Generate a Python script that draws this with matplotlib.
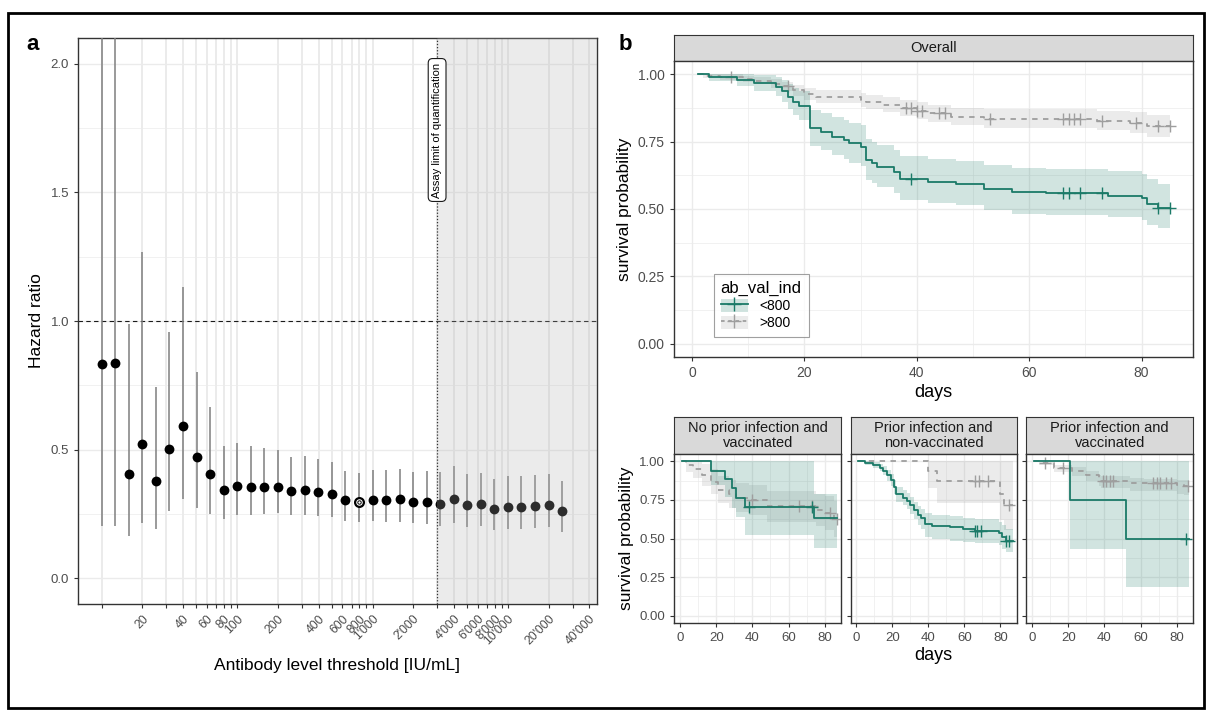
import numpy as np
import matplotlib
matplotlib.use("Agg")
import matplotlib.pyplot as plt
from matplotlib.patches import Rectangle, Patch
from matplotlib.lines import Line2D

plt.rcParams['font.family'] = ['Liberation Sans', 'DejaVu Sans']

# ---- panel a: hazard ratio by antibody threshold ----
thresholds = 10 ** (1 + 0.1 * np.arange(35))
hr = [0.831, 0.837, 0.406, 0.521, 0.379, 0.501, 0.591, 0.470, 0.407, 0.345,
      0.358, 0.355, 0.355, 0.355, 0.340, 0.342, 0.336, 0.329, 0.304, 0.298,
      0.306, 0.304, 0.307, 0.297, 0.296, 0.289, 0.307, 0.285, 0.288, 0.268,
      0.276, 0.276, 0.279, 0.284, 0.262]
hr_lo = [0.204, 0.204, 0.165, 0.213, 0.192, 0.262, 0.309, 0.272, 0.249, 0.231,
         0.244, 0.246, 0.249, 0.254, 0.244, 0.246, 0.241, 0.239, 0.222, 0.217,
         0.223, 0.219, 0.219, 0.213, 0.211, 0.204, 0.214, 0.200, 0.202, 0.187,
         0.193, 0.193, 0.196, 0.198, 0.180]
hr_hi = [3.5, 3.2, 0.990, 1.270, 0.742, 0.958, 1.131, 0.802, 0.665, 0.515,
         0.525, 0.515, 0.505, 0.498, 0.472, 0.475, 0.463, 0.451, 0.418, 0.410,
         0.420, 0.420, 0.424, 0.414, 0.416, 0.412, 0.436, 0.407, 0.411, 0.386,
         0.397, 0.397, 0.401, 0.407, 0.380]
cutoff_idx = 19
assay_limit = 3000
tick_vals = [10, 20, 30, 40, 50, 60, 70, 80, 90, 100, 200, 300, 400, 500, 600, 700,
             800, 900, 1000, 2000, 3000, 4000, 5000, 6000, 7000, 8000, 9000, 10000,
             20000, 30000, 40000]
tick_labs = ['', '20', '', '40', '', '60', '', '80', '', '100', '200', '', '400', '',
             '600', '', '800', '', "1'000", "2'000", '', "4'000", '', "6'000", '',
             "8'000", '', "10'000", "20'000", '', "40'000"]

# ---- panel b: Kaplan-Meier curves (time, survival, lower, upper, censored) ----
ov_lt_t = [1, 3, 8, 11, 15, 16, 17, 18, 19, 21, 23, 25, 27, 28, 30, 31, 32, 33, 36, 37,
           42, 47, 52, 57, 63, 74, 80, 81, 83]
ov_lt_s = [1.0, .991, .980, .967, .954, .936, .917, .898, .882, .800, .787, .768, .756,
           .744, .731, .682, .670, .657, .638, .611, .601, .593, .573, .562, .558, .549,
           .539, .520, .502]
ov_lt_lo = [1, .975, .955, .937, .92, .895, .87, .85, .83, .735, .72, .70, .686, .672,
            .66, .607, .595, .58, .56, .533, .523, .515, .495, .483, .478, .47, .46, .44, .428]
ov_lt_hi = [1, 1, 1, .997, .99, .978, .965, .95, .938, .868, .857, .84, .83, .82, .81,
            .76, .75, .738, .72, .696, .686, .678, .662, .652, .648, .64, .63, .612, .593]
ov_lt_c = [39, 66, 67, 69, 73, 83, 85]

ov_gt_t = [1, 2, 5, 9, 11, 14, 16, 18, 20, 22, 30, 31, 34, 37, 40, 42, 46, 52, 72, 78, 81]
ov_gt_s = [1.0, .995, .990, .983, .975, .965, .955, .940, .925, .915, .905, .895, .886,
           .875, .865, .855, .842, .835, .828, .820, .808]
ov_gt_lo = [1, .987, .98, .971, .962, .95, .938, .92, .903, .892, .88, .87, .859, .846,
            .835, .824, .81, .802, .793, .783, .768]
ov_gt_hi = [1, 1, 1, .995, .989, .981, .972, .96, .948, .94, .93, .922, .914, .905,
            .896, .887, .876, .87, .865, .859, .85]
ov_gt_c = [7, 17, 38, 39, 40, 41, 44, 45, 53, 66, 67, 68, 69, 73, 79, 83, 85]

nv_lt_t = [1, 17, 25, 29, 31, 36, 74]
nv_lt_s = [1, .939, .883, .825, .766, .706, .635]
nv_lt_lo = [1, .846, .77, .70, .64, .52, .44]
nv_lt_hi = [1, 1, 1, 1, 1, 1, .79]
nv_lt_c = [38, 73]
nv_gt_t = [1, 3, 7, 12, 17, 21, 27, 31, 38, 48, 75, 80, 85]
nv_gt_s = [1, .976, .948, .911, .868, .814, .788, .766, .749, .71, .684, .663, .624]
nv_gt_lo = [1, .93, .89, .84, .79, .73, .70, .675, .655, .61, .58, .555, .51]
nv_gt_hi = [1, 1, 1, .98, .95, .905, .88, .86, .845, .81, .79, .775, .745]
nv_gt_c = [40, 66, 73, 83, 87]

pn_lt_t = [1, 5, 9, 13, 15, 17, 19, 21, 22, 26, 28, 30, 32, 34, 36, 38, 42, 52, 59, 66,
           79, 81, 83]
pn_lt_s = [1, .99, .976, .96, .94, .911, .879, .835, .788, .766, .745, .717, .684, .652,
           .63, .595, .58, .572, .559, .548, .533, .507, .486]
pn_lt_lo = [1, .975, .955, .935, .91, .875, .84, .79, .74, .715, .69, .66, .625, .59,
            .565, .51, .495, .487, .475, .468, .455, .43, .41]
pn_lt_hi = [1, 1, .995, .985, .97, .945, .92, .88, .835, .815, .795, .77, .74, .71, .69,
            .665, .655, .648, .635, .625, .61, .585, .565]
pn_lt_c = [66, 67, 69, 83, 85]
pn_gt_t = [1, 40, 45, 80, 82]
pn_gt_s = [1, .937, .874, .79, .717]
pn_gt_lo = [1, .825, .73, .62, .555]
pn_gt_hi = [1, 1, 1, 1, 1]
pn_gt_c = [66, 68, 73, 85]

pv_lt_t = [1, 21, 52]
pv_lt_s = [1, .75, .50]
pv_lt_lo = [1, .43, .188]
pv_lt_hi = [1, 1, 1]
pv_lt_c = [85]
pv_gt_t = [1, 4, 12, 22, 30, 37, 38, 54, 62, 80, 84]
pv_gt_s = [1, .987, .959, .94, .911, .883, .874, .861, .857, .846, .842]
pv_gt_lo = [1, .977, .934, .905, .871, .838, .829, .811, .807, .791, .782]
pv_gt_hi = [1, .997, .979, .965, .939, .913, .904, .891, .887, .881, .877]
pv_gt_c = [7, 17, 39, 41, 43, 45, 67, 69, 71, 74, 77, 86]

GREEN = '#1b7a68'
GREY = '#9e9e9e'
W, H = 1206, 711

fig = plt.figure(figsize=(W / 100, H / 100), dpi=100)


def add_ax(l, t, r, b):
    return fig.add_axes([l / W, 1 - b / H, (r - l) / W, (b - t) / H])


def style(ax):
    for sp in ax.spines.values():
        sp.set_color('#333333')
        sp.set_linewidth(1)
    ax.tick_params(length=3, color='#333333', labelcolor='#4d4d4d')
    ax.set_axisbelow(True)


def strip(l, t, r, b, text):
    s = add_ax(l, t, r, b)
    s.set_facecolor('#d9d9d9')
    s.set_xticks([])
    s.set_yticks([])
    for sp in s.spines.values():
        sp.set_color('#333333')
    s.text(0.5, 0.5, text, ha='center', va='center', fontsize=10.5, color='#1a1a1a',
           linespacing=1.05, transform=s.transAxes)


def km(ax, t, s, lo, hi, cens, end, color, ls):
    tt = np.append(t, end)
    ax.fill_between(tt, np.append(lo, lo[-1]), np.append(hi, hi[-1]), step='post',
                    color=color, alpha=0.2, lw=0)
    ax.step(tt, np.append(s, s[-1]), where='post', color=color, ls=ls, lw=1.3)
    idx = np.searchsorted(t, cens, side='right') - 1
    ax.plot(cens, np.array(s)[idx], '+', color=color, ms=8, mew=1)


def km_axes(ax, fs):
    style(ax)
    ax.set_xlim(-3.2, 89.2)
    ax.set_ylim(-0.05, 1.05)
    ax.set_xticks([0, 20, 40, 60, 80])
    ax.set_xticks([10, 30, 50, 70], minor=True)
    ax.set_yticks([0, 0.25, 0.5, 0.75, 1.0])
    ax.set_yticks([0.125, 0.375, 0.625, 0.875], minor=True)
    ax.set_yticklabels(['0.00', '0.25', '0.50', '0.75', '1.00'])
    ax.tick_params(which='minor', length=0)
    ax.tick_params(labelsize=fs)
    ax.grid(which='major', color='#ebebeb', lw=1)
    ax.grid(which='minor', color='#ebebeb', lw=0.5)


# ---------------- panel a ----------------
ax = add_ax(78, 38, 597, 604)
style(ax)
ax.set_xscale('log')
ax.set_xlim(6.68, 45500)
ax.set_ylim(-0.1, 2.1)
ax.set_xticks(tick_vals)
ax.set_xticklabels(tick_labs, rotation=45, ha='right', va='top', rotation_mode='anchor',
                   fontsize=8.8)
ax.xaxis.set_minor_locator(matplotlib.ticker.NullLocator())
ax.set_yticks([0, 0.5, 1.0, 1.5, 2.0])
ax.set_yticks([0.25, 0.75, 1.25, 1.75], minor=True)
ax.set_yticklabels(['0.0', '0.5', '1.0', '1.5', '2.0'], fontsize=9.5)
ax.tick_params(axis='y', which='minor', length=0)
ax.grid(axis='x', which='major', color='#e6e6e6', lw=1.1)
ax.grid(axis='y', which='major', color='#ebebeb', lw=1)
ax.grid(axis='y', which='minor', color='#ebebeb', lw=0.5)

ax.axhline(1.0, color='#1a1a1a', ls=(0, (4, 3)), lw=0.8, zorder=2)
x = np.array(thresholds)
ax.vlines(x, hr_lo, hr_hi, color='#7f7f7f', lw=1.1, zorder=3)
solid = np.arange(len(x)) != cutoff_idx
ax.scatter(x[solid], np.array(hr)[solid], s=50, color='black', zorder=4, lw=0)
ax.scatter(x[cutoff_idx], hr[cutoff_idx], s=40, facecolor='white', edgecolor='black',
           lw=1.6, zorder=4)
ax.scatter(x[cutoff_idx], hr[cutoff_idx], s=6, facecolor='white', edgecolor='black',
           lw=0.7, zorder=5)
ax.axvspan(assay_limit, 45500, color='#b0b0b0', alpha=0.25, lw=0, zorder=6)
ax.axvline(assay_limit, color='#333333', ls=(0, (1, 1.5)), lw=0.9, zorder=7)
ax.text(assay_limit, 2.005, 'Assay limit of quantification', rotation=90, ha='center',
        va='top', fontsize=8, zorder=8,
        bbox=dict(boxstyle='round,pad=0.35,rounding_size=0.4', fc='white', ec='#1a1a1a',
                  lw=0.8))
ax.set_xlabel('Antibody level threshold [IU/mL]', fontsize=12.5, labelpad=8)
ax.set_ylabel('Hazard ratio', fontsize=12.5, labelpad=5)

# ---------------- panel b: overall ----------------
strip(674, 35, 1193.3, 60.7, 'Overall')
axo = add_ax(674, 60.7, 1193.3, 357.3)
km_axes(axo, 10)
km(axo, ov_gt_t, ov_gt_s, ov_gt_lo, ov_gt_hi, ov_gt_c, 85, GREY, (0, (3, 3)))
km(axo, ov_lt_t, ov_lt_s, ov_lt_lo, ov_lt_hi, ov_lt_c, 85, GREEN, '-')
axo.set_xlabel('days', fontsize=13, labelpad=3)
axo.set_ylabel('survival probability', fontsize=12.5, labelpad=4)
handles = [(Patch(color=GREEN, alpha=0.2, lw=0),
            Line2D([], [], color=GREEN, marker='+', ms=10, mew=1, lw=1.3)),
           (Patch(color=GREY, alpha=0.2, lw=0),
            Line2D([], [], color=GREY, marker='+', ms=10, mew=1, lw=1.3, ls=(0, (2, 2))))]
leg = axo.legend(handles, ['<800', '>800'], title='ab_val_ind', loc='lower left',
                 bbox_to_anchor=(0.063, 0.045), fontsize=10, title_fontsize=12,
                 frameon=True, fancybox=False, edgecolor='#888888', handlelength=2.0,
                 handleheight=1.1, borderpad=0.5, labelspacing=0.2, alignment='left')
leg.get_frame().set_linewidth(0.8)

# ---------------- panel b: subgroups ----------------
subs = [
    (674.3, 841.3, 'No prior infection and\nvaccinated',
     (nv_gt_t, nv_gt_s, nv_gt_lo, nv_gt_hi, nv_gt_c),
     (nv_lt_t, nv_lt_s, nv_lt_lo, nv_lt_hi, nv_lt_c)),
    (850.6, 1017.0, 'Prior infection and\nnon-vaccinated',
     (pn_gt_t, pn_gt_s, pn_gt_lo, pn_gt_hi, pn_gt_c),
     (pn_lt_t, pn_lt_s, pn_lt_lo, pn_lt_hi, pn_lt_c)),
    (1026.3, 1193.3, 'Prior infection and\nvaccinated',
     (pv_gt_t, pv_gt_s, pv_gt_lo, pv_gt_hi, pv_gt_c),
     (pv_lt_t, pv_lt_s, pv_lt_lo, pv_lt_hi, pv_lt_c)),
]
for i, (l, r, title, gt, lt) in enumerate(subs):
    strip(l, 417, r, 453.7, title)
    a = add_ax(l, 453.7, r, 623.4)
    km_axes(a, 9.5)
    km(a, *gt, 87, GREY, (0, (3, 3)))
    km(a, *lt, 87, GREEN, '-')
    if i == 0:
        a.set_ylabel('survival probability', fontsize=12.5, labelpad=4)
    else:
        a.set_yticklabels([])
    if i == 1:
        a.set_xlabel('days', fontsize=13, labelpad=2)

fig.text(33 / W, 1 - 44 / H, 'a', fontsize=16, fontweight='bold', ha='center', va='center')
fig.text(625 / W, 1 - 44 / H, 'b', fontsize=16, fontweight='bold', ha='center', va='center')
fig.patches.append(Rectangle((8 / W, 1 - 708 / H), 1196 / W, 695 / H, fill=False,
                             ec='black', lw=2, transform=fig.transFigure))

fig.savefig('out.png', dpi=100)
